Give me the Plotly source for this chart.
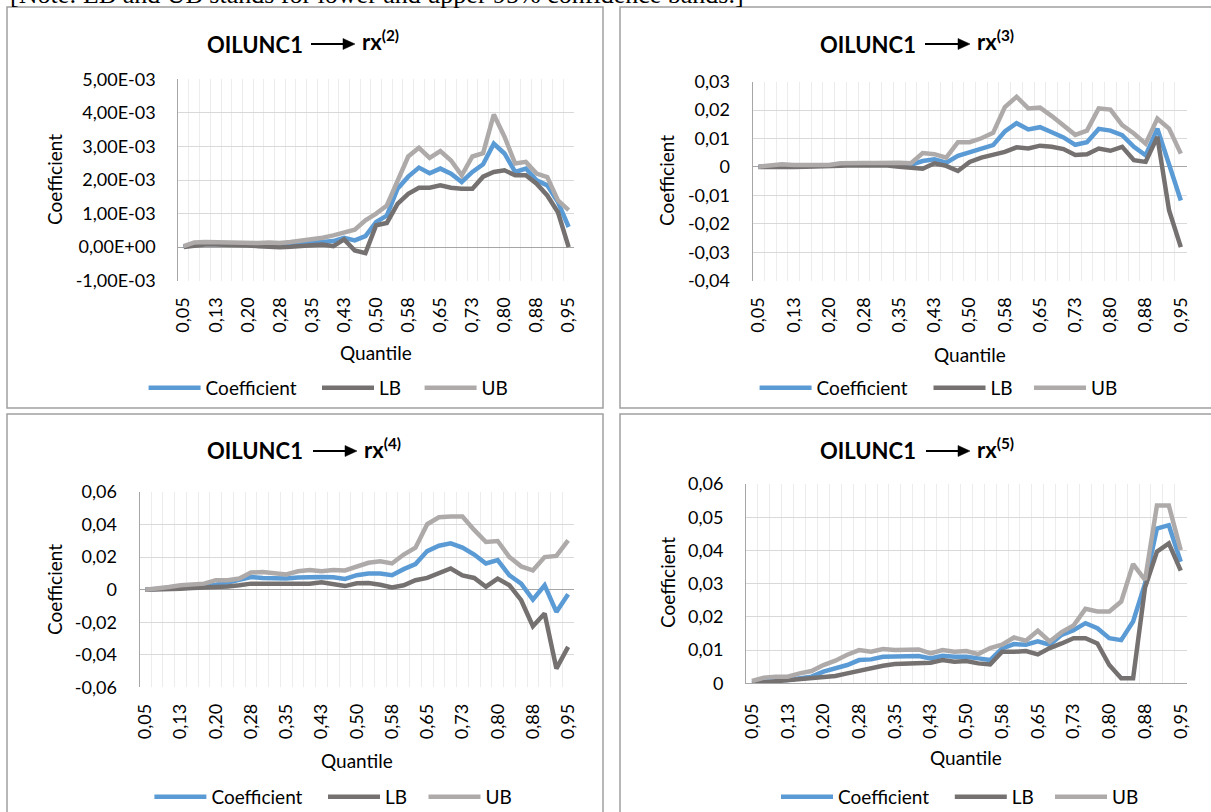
import plotly.graph_objects as go

W, H = 1211, 812

# ---------------- data ----------------
quantiles = [0.05, 0.075, 0.1, 0.125, 0.15, 0.175, 0.2, 0.225, 0.25, 0.275, 0.3, 0.325,
             0.35, 0.375, 0.4, 0.425, 0.45, 0.475, 0.5, 0.525, 0.55, 0.575, 0.6, 0.625,
             0.65, 0.675, 0.7, 0.725, 0.75, 0.775, 0.8, 0.825, 0.85, 0.875, 0.9, 0.925, 0.95]
quantile_tickvals = [0.05, 0.125, 0.2, 0.275, 0.35, 0.425, 0.5, 0.575, 0.65, 0.725, 0.8, 0.875, 0.95]
quantile_ticktext = ["0,05", "0,13", "0,20", "0,28", "0,35", "0,43", "0,50", "0,58", "0,65",
                     "0,73", "0,80", "0,88", "0,95"]

series_names = ["Coefficient", "LB", "UB"]
series_colors = ["#5B9BD5", "#767171", "#AEAAAA"]

# OILUNC1 -> rx(2)
coef_rx2 = [0.02e-3, 0.08e-3, 0.10e-3, 0.10e-3, 0.10e-3, 0.10e-3, 0.09e-3, 0.08e-3, 0.06e-3, 0.06e-3,
            0.08e-3, 0.10e-3, 0.12e-3, 0.15e-3, 0.18e-3, 0.28e-3, 0.20e-3, 0.33e-3, 0.75e-3, 0.94e-3,
            1.74e-3, 2.10e-3, 2.37e-3, 2.20e-3, 2.34e-3, 2.19e-3, 1.94e-3, 2.24e-3, 2.47e-3, 3.08e-3,
            2.79e-3, 2.24e-3, 2.34e-3, 1.99e-3, 1.84e-3, 1.34e-3, 0.60e-3]
lb_rx2 = [0.00e-3, 0.05e-3, 0.08e-3, 0.08e-3, 0.08e-3, 0.08e-3, 0.05e-3, 0.03e-3, 0.00e-3, 0.00e-3,
          0.01e-3, 0.03e-3, 0.05e-3, 0.08e-3, 0.03e-3, 0.23e-3, -0.10e-3, -0.18e-3, 0.65e-3, 0.72e-3,
          1.29e-3, 1.59e-3, 1.77e-3, 1.77e-3, 1.84e-3, 1.77e-3, 1.74e-3, 1.74e-3, 2.10e-3, 2.24e-3,
          2.29e-3, 2.14e-3, 2.14e-3, 1.89e-3, 1.54e-3, 1.04e-3, 0.00e-3]
ub_rx2 = [0.03e-3, 0.14e-3, 0.15e-3, 0.14e-3, 0.16e-3, 0.15e-3, 0.13e-3, 0.12e-3, 0.14e-3, 0.12e-3,
          0.15e-3, 0.19e-3, 0.22e-3, 0.28e-3, 0.35e-3, 0.42e-3, 0.52e-3, 0.80e-3, 1.00e-3, 1.24e-3,
          2.00e-3, 2.70e-3, 2.96e-3, 2.66e-3, 2.86e-3, 2.58e-3, 2.14e-3, 2.70e-3, 2.80e-3, 3.95e-3,
          3.29e-3, 2.49e-3, 2.54e-3, 2.19e-3, 2.09e-3, 1.39e-3, 1.10e-3]

# OILUNC1 -> rx(3)
coef_rx3 = [0.0001, 0.0002, 0.0005, 0.0004, 0.0004, 0.0004, 0.0004, 0.0008, 0.0010, 0.0009,
            0.0009, 0.0010, 0.0010, 0.0008, 0.0021, 0.0027, 0.0015, 0.0039, 0.0051, 0.0065,
            0.0077, 0.0125, 0.0154, 0.0132, 0.0140, 0.0122, 0.0104, 0.0078, 0.0087, 0.0134,
            0.0128, 0.0112, 0.0071, 0.0041, 0.0135, 0.0009, -0.0118]
lb_rx3 = [0.0000, -0.0001, 0.0001, 0.0000, 0.0001, 0.0001, 0.0001, 0.0004, 0.0006, 0.0006,
          0.0006, 0.0005, 0.0001, -0.0002, -0.0006, 0.0013, 0.0004, -0.0014, 0.0018, 0.0033,
          0.0043, 0.0053, 0.0069, 0.0065, 0.0075, 0.0071, 0.0063, 0.0042, 0.0045, 0.0065,
          0.0057, 0.0071, 0.0024, 0.0018, 0.0106, -0.0153, -0.0282]
ub_rx3 = [0.0001, 0.0004, 0.0010, 0.0007, 0.0008, 0.0008, 0.0007, 0.0013, 0.0015, 0.0014,
          0.0014, 0.0015, 0.0015, 0.0013, 0.0049, 0.0045, 0.0033, 0.0087, 0.0087, 0.0101,
          0.0120, 0.0211, 0.0247, 0.0206, 0.0209, 0.0179, 0.0147, 0.0113, 0.0128, 0.0206,
          0.0202, 0.0147, 0.0118, 0.0082, 0.0170, 0.0135, 0.0047]

# OILUNC1 -> rx(4)
coef_rx4 = [0.0000, 0.0003, 0.0008, 0.0015, 0.0020, 0.0022, 0.0030, 0.0043, 0.0064, 0.0078,
            0.0072, 0.0068, 0.0068, 0.0074, 0.0078, 0.0078, 0.0076, 0.0066, 0.0089, 0.0099,
            0.0099, 0.0089, 0.0126, 0.0157, 0.0237, 0.0270, 0.0285, 0.0258, 0.0216, 0.0161,
            0.0181, 0.0088, 0.0037, -0.0061, 0.0027, -0.0137, -0.0029]
lb_rx4 = [0.0000, 0.0000, 0.0002, 0.0006, 0.0010, 0.0012, 0.0016, 0.0020, 0.0027, 0.0037,
          0.0037, 0.0037, 0.0037, 0.0037, 0.0037, 0.0045, 0.0035, 0.0022, 0.0039, 0.0041,
          0.0030, 0.0014, 0.0027, 0.0058, 0.0072, 0.0099, 0.0130, 0.0088, 0.0072, 0.0018,
          0.0068, 0.0027, -0.0065, -0.0225, -0.0147, -0.0485, -0.0352]
ub_rx4 = [0.0000, 0.0006, 0.0016, 0.0027, 0.0035, 0.0037, 0.0058, 0.0058, 0.0068, 0.0105,
          0.0109, 0.0099, 0.0093, 0.0113, 0.0120, 0.0113, 0.0120, 0.0118, 0.0140, 0.0165,
          0.0175, 0.0161, 0.0216, 0.0258, 0.0402, 0.0445, 0.0449, 0.0449, 0.0367, 0.0293,
          0.0299, 0.0200, 0.0143, 0.0119, 0.0200, 0.0207, 0.0303]

# OILUNC1 -> rx(5)
coef_rx5 = [0.0002, 0.0007, 0.0010, 0.0010, 0.0015, 0.0020, 0.0035, 0.0045, 0.0055, 0.0070,
            0.0072, 0.0080, 0.0080, 0.0080, 0.0082, 0.0075, 0.0083, 0.0080, 0.0080, 0.0075,
            0.0070, 0.0105, 0.0118, 0.0116, 0.0126, 0.0116, 0.0146, 0.0160, 0.0181, 0.0166,
            0.0136, 0.0130, 0.0186, 0.0300, 0.0466, 0.0476, 0.0366]
lb_rx5 = [0.0000, 0.0003, 0.0007, 0.0009, 0.0012, 0.0015, 0.0017, 0.0022, 0.0030, 0.0038,
          0.0045, 0.0053, 0.0058, 0.0059, 0.0060, 0.0062, 0.0070, 0.0065, 0.0067, 0.0060,
          0.0057, 0.0095, 0.0095, 0.0097, 0.0087, 0.0106, 0.0120, 0.0136, 0.0136, 0.0120,
          0.0055, 0.0015, 0.0015, 0.0288, 0.0396, 0.0421, 0.0339]
ub_rx5 = [0.0007, 0.0017, 0.0020, 0.0020, 0.0030, 0.0037, 0.0055, 0.0068, 0.0086, 0.0100,
          0.0095, 0.0103, 0.0100, 0.0101, 0.0102, 0.0090, 0.0100, 0.0095, 0.0097, 0.0088,
          0.0106, 0.0116, 0.0138, 0.0128, 0.0158, 0.0126, 0.0154, 0.0174, 0.0224, 0.0216,
          0.0216, 0.0246, 0.0359, 0.0311, 0.0535, 0.0535, 0.0401]

# y-axis ticks
rx2_ytickvals = [-0.001, 0.0, 0.001, 0.002, 0.003, 0.004, 0.005]
rx2_yticktext = ["-1,00E-03", "0,00E+00", "1,00E-03", "2,00E-03", "3,00E-03", "4,00E-03", "5,00E-03"]
rx3_ytickvals = [-0.04, -0.03, -0.02, -0.01, 0.0, 0.01, 0.02, 0.03]
rx3_yticktext = ["-0,04", "-0,03", "-0,02", "-0,01", "0", "0,01", "0,02", "0,03"]
rx4_ytickvals = [-0.06, -0.04, -0.02, 0.0, 0.02, 0.04, 0.06]
rx4_yticktext = ["-0,06", "-0,04", "-0,02", "0", "0,02", "0,04", "0,06"]
rx5_ytickvals = [0.0, 0.01, 0.02, 0.03, 0.04, 0.05, 0.06]
rx5_yticktext = ["0", "0,01", "0,02", "0,03", "0,04", "0,05", "0,06"]

note_text = "[Note: LB and UB stands for lower and upper 95% confidence bands.]"

# ---------------- layout helpers ----------------
def fx(px):
    return px / W

def fy(py):
    return 1 - py / H

FONT = "Lato"
TXT = "#000000"
GRID_H = "#D9D9D9"
GRID_V = "#ECECEC"
AXIS = "#A6A6A6"

panels = [
    dict(n=1, sup="(2)", series=[coef_rx2, lb_rx2, ub_rx2], yr=[-0.001, 0.005],
         tv=rx2_ytickvals, tt=rx2_yticktext,
         box=(178.3, 79.3, 574.0, 280.7), title_y=44, title_r=305, arrow=(311, 355),
         ytitle=(54, 180), xtitle=(376, 353), leg_x=(148.6, 322.0, 424.6), leg_y=388,
         frame=(7, 7, 603, 408)),
    dict(n=2, sup="(3)", series=[coef_rx3, lb_rx3, ub_rx3], yr=[-0.04, 0.03],
         tv=rx3_ytickvals, tt=rx3_yticktext,
         box=(752.6, 81.7, 1186.7, 280.7), title_y=44, title_r=918, arrow=(925, 970),
         ytitle=(667, 181), xtitle=(970, 354), leg_x=(759.6, 933.5, 1034.0), leg_y=388,
         frame=(620, 7, 1216, 408)),
    dict(n=3, sup="(4)", series=[coef_rx4, lb_rx4, ub_rx4], yr=[-0.06, 0.06],
         tv=rx4_ytickvals, tt=rx4_yticktext,
         box=(139.5, 492.0, 574.0, 687.3), title_y=451, title_r=305, arrow=(313, 357),
         ytitle=(54, 590), xtitle=(357, 760), leg_x=(154.4, 328.0, 428.5), leg_y=797,
         frame=(7, 414, 603, 820)),
    dict(n=4, sup="(5)", series=[coef_rx5, lb_rx5, ub_rx5], yr=[0.0, 0.06],
         tv=rx5_ytickvals, tt=rx5_yticktext,
         box=(746.0, 484.0, 1186.7, 683.3), title_y=451, title_r=918, arrow=(926, 970),
         ytitle=(667, 583), xtitle=(966, 757), leg_x=(781.0, 954.8, 1055.0), leg_y=797,
         frame=(620, 414, 1216, 820)),
]

fig = go.Figure()
layout = dict(
    width=W, height=H, margin=dict(l=0, r=0, t=0, b=0, autoexpand=False),
    paper_bgcolor="white", plot_bgcolor="white", showlegend=True,
    font=dict(family=FONT, size=18, color=TXT),
    annotations=[], shapes=[],
)

leg_count = 0
for p in panels:
    n = p["n"]
    sfx = "" if n == 1 else str(n)
    for k, (name, color, vals) in enumerate(zip(series_names, series_colors, p["series"])):
        leg_count += 1
        legname = "legend" if leg_count == 1 else f"legend{leg_count}"
        fig.add_trace(go.Scatter(
            x=quantiles, y=vals, mode="lines", name=name, showlegend=True,
            line=dict(color=color, width=4.5),
            xaxis=f"x{sfx}", yaxis=f"y{sfx}", legend=legname,
            hoverinfo="skip",
        ))
        layout[legname] = dict(
            orientation="h", x=fx(p["leg_x"][k] - 5), y=fy(p["leg_y"]),
            xanchor="left", yanchor="middle", visible=True,
            font=dict(family=FONT, size=19, color=TXT), bgcolor="rgba(0,0,0,0)",
            itemclick=False, itemdoubleclick=False, itemwidth=52,
        )
    l, t, r, b = p["box"]
    layout[f"xaxis{sfx}"] = dict(
        domain=[fx(l), fx(r)], anchor=f"y{sfx}", range=[0.0375, 0.9625],
        tickmode="array", tickvals=quantile_tickvals, ticktext=quantile_ticktext,
        tickangle=-90, tickfont=dict(family=FONT, size=18, color=TXT),
        showgrid=False, zeroline=False, ticks="",
        showline=(n == 4), linecolor=AXIS, linewidth=1,
        minor=dict(tickmode="linear", tick0=0.0375, dtick=0.025, showgrid=True,
                   gridcolor=GRID_V, gridwidth=1, ticks=""),
        ticklabelstandoff=12, fixedrange=True, automargin=False,
    )
    layout[f"yaxis{sfx}"] = dict(
        domain=[fy(b), fy(t)], anchor=f"x{sfx}", range=p["yr"],
        tickmode="array", tickvals=p["tv"], ticktext=p["tt"],
        tickfont=dict(family=FONT, size=18, color=TXT),
        showgrid=True, gridcolor=GRID_H, gridwidth=1,
        zeroline=True, zerolinecolor=AXIS, zerolinewidth=1,
        showline=True, linecolor=AXIS, linewidth=1, ticks="",
        ticklabelstandoff=18, fixedrange=True, automargin=False,
    )
    # frame
    fx0, fy0, fx1, fy1 = p["frame"]
    layout["shapes"].append(dict(type="rect", xref="paper", yref="paper",
                                 x0=fx(fx0), x1=fx(fx1), y0=fy(fy1), y1=fy(fy0),
                                 line=dict(color="#A0A0A0", width=1.5), layer="below"))
    # title: OILUNC1 --> rx(n)
    ty = p["title_y"]
    a0, a1 = p["arrow"]
    layout["annotations"].append(dict(
        text="<b>OILUNC1</b>", x=fx(p["title_r"]), y=fy(ty), xref="paper", yref="paper",
        xanchor="right", yanchor="middle", showarrow=False,
        font=dict(family=FONT, size=22, color="black")))
    layout["shapes"].append(dict(type="line", xref="paper", yref="paper",
                                 x0=fx(a0), x1=fx(a1 - 8), y0=fy(ty), y1=fy(ty),
                                 line=dict(color="black", width=2.2)))
    layout["shapes"].append(dict(
        type="path", xref="paper", yref="paper",
        path=(f"M {fx(a1 - 12)},{fy(ty - 5.5)} L {fx(a1)},{fy(ty)} "
              f"L {fx(a1 - 12)},{fy(ty + 5.5)} Z"),
        fillcolor="black", line=dict(color="black", width=0.5)))
    layout["annotations"].append(dict(
        text=f"<b>rx<sup>{p['sup']}</sup></b>", x=fx(a1 + 5), y=fy(ty - 3), xref="paper", yref="paper",
        xanchor="left", yanchor="middle", showarrow=False,
        font=dict(family=FONT, size=22, color="black")))
    # axis titles
    yx, yy = p["ytitle"]
    layout["annotations"].append(dict(
        text="Coefficient", x=fx(yx), y=fy(yy), xref="paper", yref="paper",
        xanchor="center", yanchor="middle", textangle=-90, showarrow=False,
        font=dict(family=FONT, size=19, color=TXT)))
    qx, qy = p["xtitle"]
    layout["annotations"].append(dict(
        text="Quantile", x=fx(qx), y=fy(qy), xref="paper", yref="paper",
        xanchor="center", yanchor="middle", showarrow=False,
        font=dict(family=FONT, size=19, color=TXT)))

# cut-off note at the very top
layout["annotations"].append(dict(
    text=note_text, x=fx(8), y=fy(-6), xref="paper", yref="paper",
    xanchor="left", yanchor="middle", showarrow=False,
    font=dict(family="Liberation Serif", size=26, color="black")))

fig.update_layout(**layout)
fig.write_html(
    "out.html",
    config={"displayModeBar": False, "staticPlot": False},
    post_script="document.body.style.margin='0px';document.body.style.padding='0px';",
)
